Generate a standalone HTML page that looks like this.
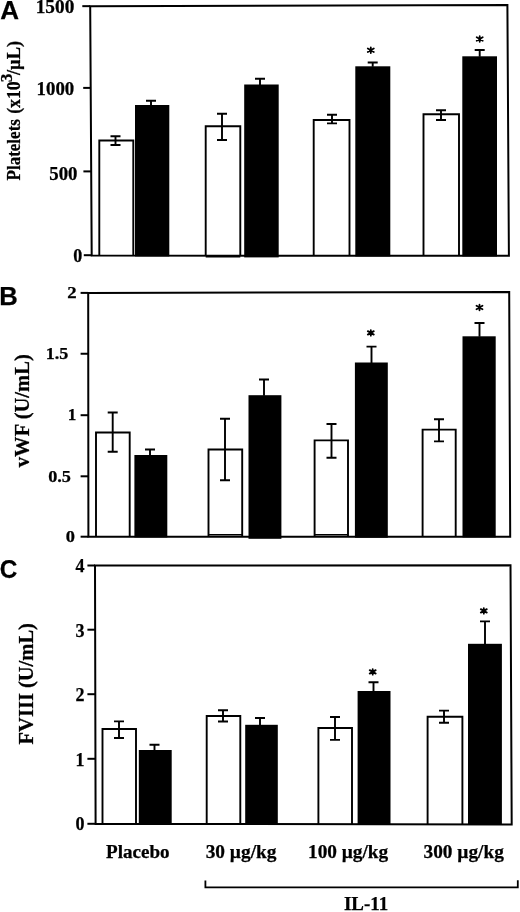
<!DOCTYPE html>
<html><head><meta charset="utf-8"><title>Figure</title>
<style>
html,body{margin:0;padding:0;background:#fff;}
body{width:520px;height:912px;overflow:hidden;font-family:"Liberation Serif",serif;}
svg{display:block;filter:grayscale(1);}
text{fill:#000;stroke:#000;stroke-width:0.25px;}
</style></head><body>
<svg width="520" height="912" viewBox="0 0 520 912">
<rect width="520" height="912" fill="#fff"/>
<path d="M90.2 6.15L507.4 4.9L508.9 255.7L91.7 255.6Z" fill="none" stroke="#000" stroke-width="2.0" stroke-linejoin="miter"/>
<line x1="82.3" y1="6.15" x2="90.20" y2="6.15" stroke="#000" stroke-width="2.0"/>
<line x1="83.2" y1="87.9" x2="90.69" y2="87.9" stroke="#000" stroke-width="2.0"/>
<line x1="83.4" y1="171.4" x2="91.19" y2="171.4" stroke="#000" stroke-width="2.0"/>
<line x1="83.8" y1="255.2" x2="91.70" y2="255.2" stroke="#000" stroke-width="2.0"/>
<path d="M99.30 256.10V140.50H133.30V256.10" fill="none" stroke="#000" stroke-width="1.9"/>
<path d="M110.50 136.25H120.50M115.50 136.25V145.00M110.50 145.00H120.50" fill="none" stroke="#000" stroke-width="1.9"/>
<rect x="135.00" y="105.00" width="34.30" height="151.40" fill="#000"/>
<path d="M146.00 100.75H156.00M151.00 100.75V105.50" fill="none" stroke="#000" stroke-width="1.9"/>
<path d="M205.70 256.10V126.30H240.30V256.10" fill="none" stroke="#000" stroke-width="1.9"/>
<path d="M217.00 113.70H227.00M222.00 113.70V140.00M217.00 140.00H227.00" fill="none" stroke="#000" stroke-width="1.9"/>
<rect x="244.20" y="84.50" width="34.50" height="172.90" fill="#000"/>
<path d="M255.00 78.70H265.00M260.00 78.70V85.00" fill="none" stroke="#000" stroke-width="1.9"/>
<path d="M313.70 256.10V120.00H349.50V256.10" fill="none" stroke="#000" stroke-width="1.9"/>
<path d="M327.00 114.70H337.00M332.00 114.70V123.40M327.00 123.40H337.00" fill="none" stroke="#000" stroke-width="1.9"/>
<rect x="355.30" y="66.30" width="35.00" height="190.10" fill="#000"/>
<path d="M367.70 62.50H377.70M372.70 62.50V66.80" fill="none" stroke="#000" stroke-width="1.9"/>
<path d="M423.50 256.10V114.30H459.00V256.10" fill="none" stroke="#000" stroke-width="1.9"/>
<path d="M436.00 110.20H446.00M441.00 110.20V120.00M436.00 120.00H446.00" fill="none" stroke="#000" stroke-width="1.9"/>
<rect x="462.30" y="56.30" width="34.70" height="200.10" fill="#000"/>
<path d="M474.70 50.00H484.70M479.70 50.00V56.80" fill="none" stroke="#000" stroke-width="1.9"/>
<path d="M205.7 256.7H240.3" stroke="#000" stroke-width="1.6"/>
<path d="M370.8 47.40V53.00M367.80 48.45L373.80 51.95M367.80 51.95L373.80 48.45" fill="none" stroke="#000" stroke-width="1.8" stroke-linecap="round"/>
<circle cx="370.8" cy="50.2" r="1.5" fill="#000"/>
<path d="M479.7 36.20V41.80M476.70 37.25L482.70 40.75M476.70 40.75L482.70 37.25" fill="none" stroke="#000" stroke-width="1.8" stroke-linecap="round"/>
<circle cx="479.7" cy="39.0" r="1.5" fill="#000"/>
<text x="0.2" y="19.2" font-family='"Liberation Sans", sans-serif' font-weight="bold" font-size="26" text-anchor="start">A</text>
<text x="74.3" y="12.8" font-family='"Liberation Serif", serif' font-weight="bold" font-size="18" text-anchor="end" textLength="38.6" lengthAdjust="spacingAndGlyphs">1500</text>
<text x="74.2" y="94.8" font-family='"Liberation Serif", serif' font-weight="bold" font-size="18" text-anchor="end" textLength="37.6" lengthAdjust="spacingAndGlyphs">1000</text>
<text x="77.5" y="179.6" font-family='"Liberation Serif", serif' font-weight="bold" font-size="18" text-anchor="end" textLength="28.2" lengthAdjust="spacingAndGlyphs">500</text>
<text x="82.3" y="262.4" font-family='"Liberation Serif", serif' font-weight="bold" font-size="18" text-anchor="end">0</text>
<text transform="translate(20.2 180.4) rotate(-90)" font-family='"Liberation Serif", serif' font-weight="bold" font-size="19.6" textLength="61.3" lengthAdjust="spacingAndGlyphs">Platelets</text>
<text transform="translate(19.9 113.8) rotate(-90)" font-family='"Liberation Serif", serif' font-weight="bold" font-size="19" textLength="32.4" lengthAdjust="spacingAndGlyphs">(x10</text>
<text transform="translate(12.3 82.2) rotate(-90)" font-family='"Liberation Serif", serif' font-weight="bold" font-size="16" textLength="8.6" lengthAdjust="spacingAndGlyphs">3</text>
<text transform="translate(19.9 75.0) rotate(-90)" font-family='"Liberation Serif", serif' font-weight="bold" font-size="19" textLength="34.2" lengthAdjust="spacingAndGlyphs">/µL)</text>
<path d="M88.2 292.9L509.2 292.0L510.2 536.8L88.4 536.7Z" fill="none" stroke="#000" stroke-width="2.0" stroke-linejoin="miter"/>
<line x1="80.6" y1="292.9" x2="88.20" y2="292.9" stroke="#000" stroke-width="2.0"/>
<line x1="80.6" y1="353.75" x2="88.25" y2="353.75" stroke="#000" stroke-width="2.0"/>
<line x1="80.6" y1="415.2" x2="88.30" y2="415.2" stroke="#000" stroke-width="2.0"/>
<line x1="80.6" y1="476.3" x2="88.35" y2="476.3" stroke="#000" stroke-width="2.0"/>
<line x1="80.6" y1="536.7" x2="88.40" y2="536.7" stroke="#000" stroke-width="2.0"/>
<path d="M96.00 537.10V432.50H129.70V537.10" fill="none" stroke="#000" stroke-width="1.9"/>
<path d="M107.70 412.50H117.70M112.70 412.50V451.80M107.70 451.80H117.70" fill="none" stroke="#000" stroke-width="1.9"/>
<rect x="134.40" y="455.00" width="32.90" height="82.40" fill="#000"/>
<path d="M145.00 449.50H155.00M150.00 449.50V455.50" fill="none" stroke="#000" stroke-width="1.9"/>
<path d="M208.50 537.10V449.50H242.20V537.10" fill="none" stroke="#000" stroke-width="1.9"/>
<path d="M220.00 418.80H230.00M225.00 418.80V480.20M220.00 480.20H230.00" fill="none" stroke="#000" stroke-width="1.9"/>
<rect x="248.50" y="395.20" width="32.90" height="143.60" fill="#000"/>
<path d="M259.00 379.50H269.00M264.00 379.50V395.70" fill="none" stroke="#000" stroke-width="1.9"/>
<path d="M314.60 537.10V440.40H348.00V537.10" fill="none" stroke="#000" stroke-width="1.9"/>
<path d="M326.50 424.00H336.50M331.50 424.00V457.70M326.50 457.70H336.50" fill="none" stroke="#000" stroke-width="1.9"/>
<rect x="354.90" y="362.50" width="32.90" height="175.20" fill="#000"/>
<path d="M366.50 346.60H376.50M371.50 346.60V363.00" fill="none" stroke="#000" stroke-width="1.9"/>
<path d="M422.60 537.10V429.60H455.70V537.10" fill="none" stroke="#000" stroke-width="1.9"/>
<path d="M434.00 419.20H444.00M439.00 419.20V441.40M434.00 441.40H444.00" fill="none" stroke="#000" stroke-width="1.9"/>
<rect x="462.50" y="336.30" width="33.20" height="201.10" fill="#000"/>
<path d="M474.50 323.00H484.50M479.50 323.00V336.80" fill="none" stroke="#000" stroke-width="1.9"/>
<path d="M208.5 534.7H242.2M314.6 534.7H348" stroke="#000" stroke-width="1.5"/>
<path d="M370.8 330.10V335.70M367.80 331.15L373.80 334.65M367.80 334.65L373.80 331.15" fill="none" stroke="#000" stroke-width="1.8" stroke-linecap="round"/>
<circle cx="370.8" cy="332.9" r="1.5" fill="#000"/>
<path d="M479.5 304.70V310.30M476.50 305.75L482.50 309.25M476.50 309.25L482.50 305.75" fill="none" stroke="#000" stroke-width="1.8" stroke-linecap="round"/>
<circle cx="479.5" cy="307.5" r="1.5" fill="#000"/>
<text x="-0.7" y="305" font-family='"Liberation Sans", sans-serif' font-weight="bold" font-size="26.6" text-anchor="start" textLength="18.5" lengthAdjust="spacingAndGlyphs">B</text>
<text x="76.6" y="297.6" font-family='"Liberation Serif", serif' font-weight="bold" font-size="16.5" text-anchor="end" textLength="9.4" lengthAdjust="spacingAndGlyphs">2</text>
<text x="68.4" y="358.7" font-family='"Liberation Serif", serif' font-weight="bold" font-size="16.5" text-anchor="end" textLength="22.6" lengthAdjust="spacingAndGlyphs">1.5</text>
<text x="76.4" y="420.4" font-family='"Liberation Serif", serif' font-weight="bold" font-size="16.5" text-anchor="end" textLength="8.6" lengthAdjust="spacingAndGlyphs">1</text>
<text x="71" y="481.7" font-family='"Liberation Serif", serif' font-weight="bold" font-size="16.5" text-anchor="end" textLength="22.8" lengthAdjust="spacingAndGlyphs">0.5</text>
<text x="75" y="542" font-family='"Liberation Serif", serif' font-weight="bold" font-size="16.5" text-anchor="end" textLength="9.2" lengthAdjust="spacingAndGlyphs">0</text>
<text transform="translate(28.9 467.2) rotate(-90)" font-family='"Liberation Serif", serif' font-weight="bold" font-size="20" textLength="113" lengthAdjust="spacingAndGlyphs">vWF (U/mL)</text>
<path d="M95.0 565.5L510.5 565.2L511.7 824.4L95.6 823.9Z" fill="none" stroke="#000" stroke-width="2.0" stroke-linejoin="miter"/>
<line x1="87.4" y1="565.5" x2="95.00" y2="565.5" stroke="#000" stroke-width="2.0"/>
<line x1="87.4" y1="629.7" x2="95.15" y2="629.7" stroke="#000" stroke-width="2.0"/>
<line x1="87.4" y1="694.2" x2="95.30" y2="694.2" stroke="#000" stroke-width="2.0"/>
<line x1="87.4" y1="758.8" x2="95.45" y2="758.8" stroke="#000" stroke-width="2.0"/>
<line x1="87.4" y1="823.8" x2="95.60" y2="823.8" stroke="#000" stroke-width="2.0"/>
<path d="M102.50 824.60V729.00H136.00V824.60" fill="none" stroke="#000" stroke-width="1.9"/>
<path d="M114.00 721.40H124.00M119.00 721.40V738.00M114.00 738.00H124.00" fill="none" stroke="#000" stroke-width="1.9"/>
<rect x="138.80" y="750.00" width="32.90" height="74.90" fill="#000"/>
<path d="M149.50 744.80H159.50M154.50 744.80V750.50" fill="none" stroke="#000" stroke-width="1.9"/>
<path d="M206.70 824.60V716.00H240.30V824.60" fill="none" stroke="#000" stroke-width="1.9"/>
<path d="M218.00 710.30H228.00M223.00 710.30V721.50M218.00 721.50H228.00" fill="none" stroke="#000" stroke-width="1.9"/>
<rect x="245.20" y="724.80" width="32.60" height="100.10" fill="#000"/>
<path d="M255.00 718.00H265.00M260.00 718.00V725.30" fill="none" stroke="#000" stroke-width="1.9"/>
<path d="M318.40 824.60V728.00H352.00V824.60" fill="none" stroke="#000" stroke-width="1.9"/>
<path d="M330.00 717.00H340.00M335.00 717.00V739.90M330.00 739.90H340.00" fill="none" stroke="#000" stroke-width="1.9"/>
<rect x="357.60" y="691.00" width="32.90" height="133.90" fill="#000"/>
<path d="M368.50 682.30H378.50M373.50 682.30V691.50" fill="none" stroke="#000" stroke-width="1.9"/>
<path d="M427.60 824.60V716.80H462.40V824.60" fill="none" stroke="#000" stroke-width="1.9"/>
<path d="M439.00 710.60H449.00M444.00 710.60V722.80M439.00 722.80H449.00" fill="none" stroke="#000" stroke-width="1.9"/>
<rect x="468.00" y="643.80" width="33.90" height="181.10" fill="#000"/>
<path d="M480.00 621.40H490.00M485.00 621.40V644.30" fill="none" stroke="#000" stroke-width="1.9"/>
<path d="M372.7 669.10V674.70M369.70 670.15L375.70 673.65M369.70 673.65L375.70 670.15" fill="none" stroke="#000" stroke-width="1.8" stroke-linecap="round"/>
<circle cx="372.7" cy="671.9" r="1.5" fill="#000"/>
<path d="M483.8 608.10V613.70M480.80 609.15L486.80 612.65M480.80 612.65L486.80 609.15" fill="none" stroke="#000" stroke-width="1.8" stroke-linecap="round"/>
<circle cx="483.8" cy="610.9" r="1.5" fill="#000"/>
<text x="-0.3" y="578.3" font-family='"Liberation Sans", sans-serif' font-weight="bold" font-size="26.6" text-anchor="start" textLength="17.6" lengthAdjust="spacingAndGlyphs">C</text>
<text x="84.6" y="571.8" font-family='"Liberation Serif", serif' font-weight="bold" font-size="18" text-anchor="end">4</text>
<text x="84.6" y="636.6" font-family='"Liberation Serif", serif' font-weight="bold" font-size="18" text-anchor="end">3</text>
<text x="84.6" y="700.8" font-family='"Liberation Serif", serif' font-weight="bold" font-size="18" text-anchor="end">2</text>
<text x="84.6" y="766.2" font-family='"Liberation Serif", serif' font-weight="bold" font-size="18" text-anchor="end">1</text>
<text x="84.6" y="829.8" font-family='"Liberation Serif", serif' font-weight="bold" font-size="18" text-anchor="end">0</text>
<text transform="translate(32.6 744.4) rotate(-90)" font-family='"Liberation Serif", serif' font-weight="bold" font-size="20.5" textLength="121.3" lengthAdjust="spacingAndGlyphs">FVIII (U/mL)</text>
<text x="106.0" y="858" font-family='"Liberation Serif", serif' font-weight="bold" font-size="18.6" text-anchor="start" textLength="63.6" lengthAdjust="spacingAndGlyphs">Placebo</text>
<text x="205.7" y="858" font-family='"Liberation Serif", serif' font-weight="bold" font-size="18" text-anchor="start" textLength="70.8" lengthAdjust="spacingAndGlyphs">30 µg/kg</text>
<text x="308.0" y="858" font-family='"Liberation Serif", serif' font-weight="bold" font-size="18" text-anchor="start" textLength="80.2" lengthAdjust="spacingAndGlyphs">100 µg/kg</text>
<text x="423.6" y="858" font-family='"Liberation Serif", serif' font-weight="bold" font-size="18" text-anchor="start" textLength="80.2" lengthAdjust="spacingAndGlyphs">300 µg/kg</text>
<path d="M205.4 880.5V887.4H517.8V880.2" fill="none" stroke="#000" stroke-width="1.8"/>
<text x="344.0" y="910" font-family='"Liberation Serif", serif' font-weight="bold" font-size="18" text-anchor="start" textLength="44.2" lengthAdjust="spacingAndGlyphs">IL-11</text>
</svg>
</body></html>
